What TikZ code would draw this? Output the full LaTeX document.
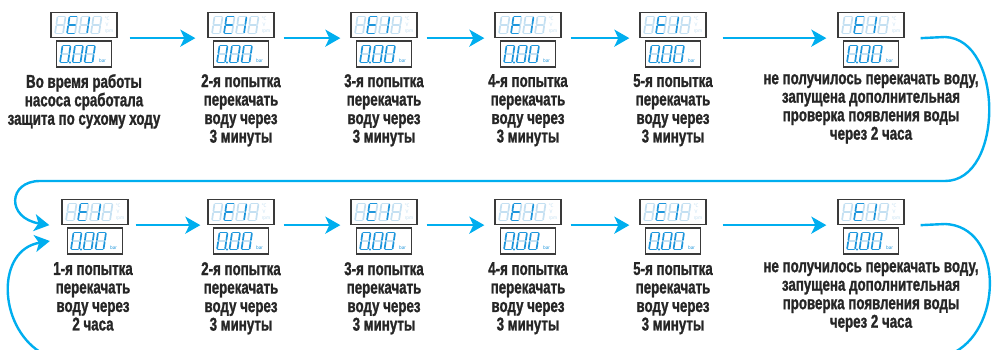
\documentclass[tikz,border=0pt]{standalone}
\usepackage{fontspec}
\setmainfont{Liberation Sans}
\newfontfamily\lblfont[FakeStretch=0.72,FakeBold=1.2]{Liberation Sans Bold}
\newfontfamily\lcdfont{PT Sans}
\usetikzlibrary{arrows.meta}
\definecolor{lblue}{HTML}{00AEEF}
\definecolor{dig}{HTML}{1E96DC}
\definecolor{faint}{HTML}{C4E0F2}
\definecolor{txt}{HTML}{262626}
\definecolor{frame}{HTML}{3A3A3A}

\def\segA{(1.0,-17) -- (7.0,-17)}
\def\segB{(8,-16) -- (8,-9.5)}
\def\segC{(8,-7.5) -- (8,-1)}
\def\segD{(1.0,0) -- (7.0,0)}
\def\segE{(0,-1) -- (0,-7.5)}
\def\segF{(0,-9.5) -- (0,-16)}
\def\segG{(1.0,-8.5) -- (7.0,-8.5)}

\newcommand\sevdig[3]{%
  \begin{scope}[shift={#1}, xslant=0.15]
    \foreach \s in {#3}{\draw[#2, line width=1.7pt, line cap=round] \csname seg\s\endcsname;}
  \end{scope}}

\newcommand\lcd[3]{% name, x, y (top box centre)
  \node[topbox] (#1t) at (#2,#3) {};
  \node[botbox] (#1b) at (#2,#3+29) {};
  % top display
  \sevdig{(#2-29,#3+8.5)}{faint}{A,B,C,D,E,F,G}
  \sevdig{(#2-17,#3+8.5)}{faint}{B,C}
  \sevdig{(#2-17,#3+8.5)}{dig}{A,D,E,F,G}
  \sevdig{(#2-5,#3+8.5)}{faint}{A,D,E,F,G}
  \sevdig{(#2-5,#3+8.5)}{dig}{B,C}
  \sevdig{(#2+7,#3+8.5)}{faint}{A,B,C,D,E,F,G}
  \node[unit] at (#2+23,#3-6) {\textdegree C};
  \node[unit] at (#2+23,#3) {V};
  \node[unit] at (#2+25,#3+7) {rpm};
  % bottom display
  \sevdig{(#2-24,#3+37.5)}{faint}{G}
  \sevdig{(#2-24,#3+37.5)}{dig}{A,B,C,D,E,F}
  \sevdig{(#2-11.5,#3+37.5)}{faint}{G}
  \sevdig{(#2-11.5,#3+37.5)}{dig}{A,B,C,D,E,F}
  \sevdig{(#2+0.5,#3+37.5)}{faint}{G}
  \sevdig{(#2+0.5,#3+37.5)}{dig}{A,B,C,D,E,F}
  \fill[dig] (#2-14,#3+37.5) circle (1.1pt);
  \node[unit, text=dig] at (#2+18.5,#3+36) {bar};
}

\begin{document}
\begin{tikzpicture}[x=1pt,y=-1pt,
  topbox/.style={draw=frame, line width=1.3pt, fill=white, minimum width=66pt, minimum height=25pt, inner sep=0pt},
  botbox/.style={draw=frame, line width=1.3pt, fill=white, minimum width=55pt, minimum height=26pt, inner sep=0pt},
  unit/.style={font=\lcdfont\fontsize{5}{5}\selectfont, text=faint, inner sep=0pt},
  lbl/.style={font=\lblfont\fontsize{18.5}{18.5}\selectfont, text=txt, align=center, inner sep=0pt, anchor=north},
  arr/.style={draw=lblue, line width=2.4pt, -{Stealth[length=15pt, width=17pt, inset=4pt]}},
  loopline/.style={draw=lblue, line width=2.4pt}
]
\useasboundingbox (0,0) rectangle (993,350);

% row 1
\lcd{u1}{84}{25}
\lcd{u2}{241}{25}
\lcd{u3}{384}{25}
\lcd{u4}{528}{25}
\lcd{u5}{673}{25}
\lcd{u6}{871}{25}
% row 2
\lcd{u7}{95}{212}
\lcd{u8}{241}{212}
\lcd{u9}{384}{212}
\lcd{u10}{528}{212}
\lcd{u11}{673}{212}
\lcd{u12}{871}{212}

\node[lbl] (l1) at (84,74) {Во время работы\\насоса сработала\\защита по сухому ходу};
\node[lbl] (l2) at (241,74) {2-я попытка\\перекачать\\воду через\\3 минуты};
\node[lbl] (l3) at (384,74) {3-я попытка\\перекачать\\воду через\\3 минуты};
\node[lbl] (l4) at (528,74) {4-я попытка\\перекачать\\воду через\\3 минуты};
\node[lbl] (l5) at (673,74) {5-я попытка\\перекачать\\воду через\\3 минуты};
\node[lbl] (l6) at (871,74) {не получилось перекачать воду,\\запущена дополнительная\\проверка появления воды\\через 2 часа};

\node[lbl] (l7) at (93,262) {1-я попытка\\перекачать\\воду через\\2 часа};
\node[lbl] (l8) at (241,262) {2-я попытка\\перекачать\\воду через\\3 минуты};
\node[lbl] (l9) at (384,262) {3-я попытка\\перекачать\\воду через\\3 минуты};
\node[lbl] (l10) at (528,262) {4-я попытка\\перекачать\\воду через\\3 минуты};
\node[lbl] (l11) at (673,262) {5-я попытка\\перекачать\\воду через\\3 минуты};
\node[lbl] (l12) at (871,262) {не получилось перекачать воду,\\запущена дополнительная\\проверка появления воды\\через 2 часа};

% arrows row 1
\draw[arr] ([xshift=12pt]u1t.south east) -- ([xshift=-12pt]u2t.south west);
\draw[arr] ([xshift=9pt]u2t.south east) -- ([xshift=-10pt]u3t.south west);
\draw[arr] ([xshift=9pt]u3t.south east) -- ([xshift=-10pt]u4t.south west);
\draw[arr] ([xshift=9pt]u4t.south east) -- ([xshift=-10pt]u5t.south west);
\draw[arr] ([xshift=16pt]u5t.south east) -- ([xshift=-11pt]u6t.south west);
% arrows row 2
\draw[arr] ([xshift=7pt]u7t.south east) -- ([xshift=-7pt]u8t.south west);
\draw[arr] ([xshift=9pt]u8t.south east) -- ([xshift=-10pt]u9t.south west);
\draw[arr] ([xshift=9pt]u9t.south east) -- ([xshift=-10pt]u10t.south west);
\draw[arr] ([xshift=9pt]u10t.south east) -- ([xshift=-10pt]u11t.south west);
\draw[arr] ([xshift=16pt]u11t.south east) -- ([xshift=-11pt]u12t.south west);

% loop from row 1 to row 2
\coordinate (r1) at (945,37);
\coordinate (r2) at (945,181);
\coordinate (r3) at (40,181);
\draw[arr] ([xshift=16pt]u6t.south east) -- (r1) .. controls (1004,39) and (1004,181) .. (r2) -- (r3)
  .. controls (8,181) and (6,218) .. ([xshift=-12pt]u7t.south west);
% loop into row 2 from below
\coordinate (bl) at (40,352);
\draw[arr] (bl) .. controls (-2,325) and (-4,250) .. ([xshift=-17pt]u7b.west);
% loop out of row 2
\coordinate (br1) at (945,224);
\coordinate (br2) at (955,352);
\draw[loopline] ([xshift=16pt]u12t.south east) -- (br1) .. controls (1002,226) and (1004,325) .. (br2);
\end{tikzpicture}
\end{document}
